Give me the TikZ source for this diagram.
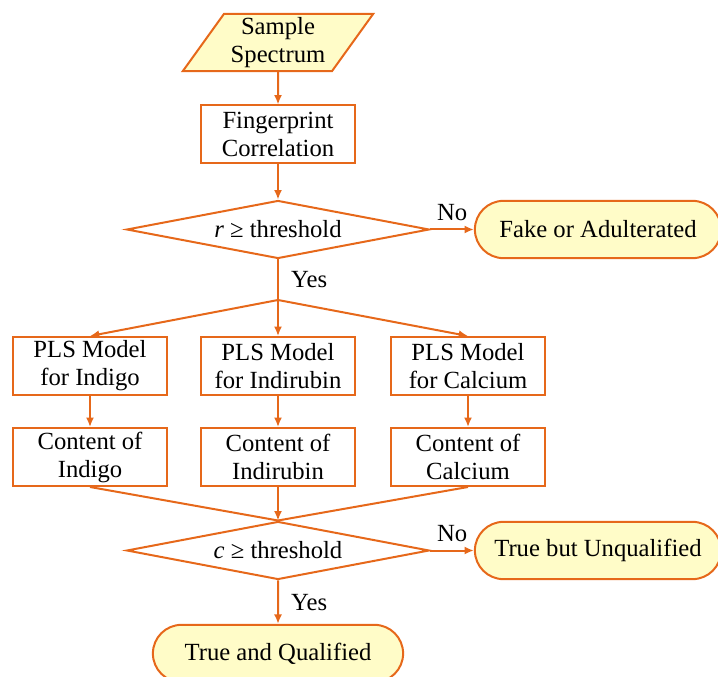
\documentclass[tikz,border=0pt]{standalone}
\usepackage{fontspec}
\setmainfont{Liberation Serif}
\usetikzlibrary{shapes.geometric,shapes.misc,arrows.meta}
\definecolor{floworange}{RGB}{230,104,26}
\definecolor{flowyellow}{RGB}{255,252,200}
\begin{document}
\begin{tikzpicture}[x=0.75pt,y=-0.75pt,>={Latex[length=7pt,width=6pt]}]
        \tikzstyle{blk} = [draw, floworange, line width=1.5pt]
        \tikzstyle{proc} = [draw=floworange, line width=1.5pt, align=center, minimum width=116pt, minimum height=43.5pt, inner sep=2pt]
        \tikzstyle{test} = [diamond, aspect=5.2, draw=floworange, line width=1.5pt, minimum width=227pt, minimum height=43.5pt, inner sep=0pt]
        \tikzstyle{term} = [rounded rectangle, draw=floworange, fill=flowyellow, line width=1.5pt, minimum height=43pt]
        \tikzstyle{lbl} = [text=black]
        \useasboundingbox (0, 0) rectangle (718, 677);
        \fontsize{18.5}{21}\selectfont

        \node[trapezium, trapezium left angle=55, trapezium right angle=125, trapezium stretches=true, draw=floworange, fill=flowyellow, line width=1.5pt, align=center, minimum width=143pt, minimum height=43pt, inner sep=1pt] (sample spectrum) at (278, 42.5) {Sample\\Spectrum};
        \node[proc] (fingerprint) at (278, 134.5) {Fingerprint\\Correlation};
        \node[test] (r test) at (278, 229.5) {\textit{r} ≥ threshold};
        \node[term, minimum width=197pt] (fake) at (598, 229.5) {Fake or Adulterated};
        \coordinate (split) at (278, 300);

        \node[proc] (pls indigo) at (90, 366) {PLS Model\\for Indigo};
        \node[proc] (pls indirubin) at (278, 366) {PLS Model\\for Indirubin};
        \node[proc] (pls calcium) at (468, 366) {PLS Model\\for Calcium};
        \node[proc] (content indigo) at (90, 457) {Content of\\Indigo};
        \node[proc] (content indirubin) at (278, 457) {Content of\\Indirubin};
        \node[proc] (content calcium) at (468, 457) {Content of\\Calcium};

        \node[test] (c test) at (278, 550.5) {\textit{c} ≥ threshold};
        \node[term, minimum width=197pt] (unqualified) at (598, 550.5) {True but Unqualified};
        \node[term, minimum width=200pt] (qualified) at (278, 653.5) {True and Qualified};

        \path[blk, ->] (sample spectrum) to (fingerprint);
        \path[blk, ->] (fingerprint) to (r test);
        \path[blk, ->] (r test) to node[lbl, midway, above] {No} (fake);
        \path[blk] (r test.south) to node[lbl, midway, right, xshift=3pt] {Yes} (split);
        \path[blk, ->] (split) to (pls indigo.north);
        \path[blk, ->] (split) to (pls indirubin.north);
        \path[blk, ->] (split) to (pls calcium.north);
        \path[blk, ->] (pls indigo) to (content indigo);
        \path[blk, ->] (pls indirubin) to (content indirubin);
        \path[blk, ->] (pls calcium) to (content calcium);
        \path[blk] (content indigo.south) to (c test.north);
        \path[blk, ->] (content indirubin.south) to (c test.north);
        \path[blk] (content calcium.south) to (c test.north);
        \path[blk, ->] (c test) to node[lbl, midway, above] {No} (unqualified);
        \path[blk, ->] (c test) to node[lbl, midway, right, xshift=3pt] {Yes} (qualified);
    \end{tikzpicture}
\end{document}
